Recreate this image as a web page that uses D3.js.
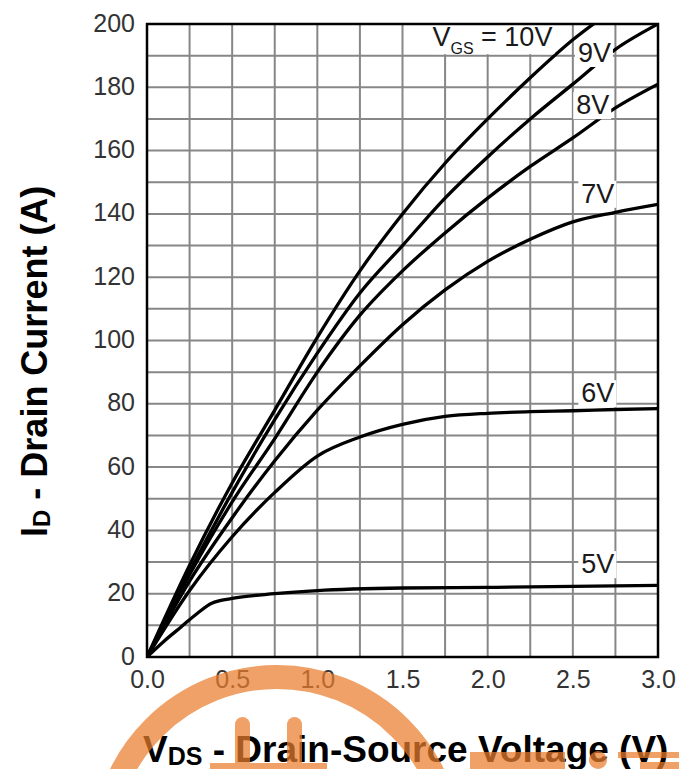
<!DOCTYPE html>
<html>
<head>
<meta charset="utf-8">
<script src="https://cdn.jsdelivr.net/npm/d3@7"></script>
<style>
  html, body { margin: 0; padding: 0; background: #fff; }
  svg { display: block; font-family: "Liberation Sans", Arial, sans-serif; }
</style>
</head>
<body>
<svg id="chart" width="679" height="769"></svg>
<script>
// ---- data ----
const vds = [0, 0.25, 0.5, 0.75, 1.0, 1.25, 1.5, 1.75, 2.0, 2.25, 2.5, 2.75, 3.0];
const id10V = [0, 29, 55, 78, 101, 122, 140, 156, 170, 183, 195, 205, null];
const id9V  = [0, 27, 52, 75, 96, 115, 130, 145, 158, 170, 181, 192, 200];
const id8V  = [0, 26, 49, 69, 90, 108, 122, 134, 145, 155, 164, 173.5, 181];
const id7V  = [0, 24, 44, 62, 78, 92, 105, 116, 125, 132, 137.5, 140.5, 143];
const id6V  = [0, 21, 38, 52, 63.5, 69.5, 73.5, 76, 77, 77.5, 77.8, 78.2, 78.5];
const vds5 = [0, 0.1, 0.2, 0.3, 0.38, 0.5, 0.75, 1.0, 1.5, 2.0, 2.5, 3.0];
const id5V = [0, 5, 9.5, 14, 17, 18.5, 20, 21, 21.8, 22, 22.3, 22.6];
const seriesNames = ["10V", "9V", "8V", "7V", "6V", "5V"];
const xTicks = [0, 0.5, 1.0, 1.5, 2.0, 2.5, 3.0];
const yTicks = [0, 20, 40, 60, 80, 100, 120, 140, 160, 180, 200];
const xGrid = d3.range(0, 3.0001, 0.25);
const yGrid = d3.range(0, 200.001, 10);

// ---- layout ----
const svg = d3.select("#chart");
const L = 147, R = 658, T = 24, B = 657;
const x = d3.scaleLinear().domain([0, 3]).range([L, R]);
const y = d3.scaleLinear().domain([0, 200]).range([B, T]);

svg.append("defs").append("clipPath").attr("id", "plotclip")
  .append("rect").attr("x", L).attr("y", T).attr("width", R - L).attr("height", B - T);

// grid
const grid = svg.append("g").attr("stroke", "#878787").attr("stroke-width", 2);
grid.selectAll("line.v").data(xGrid).enter().append("line")
  .attr("x1", d => x(d)).attr("x2", d => x(d)).attr("y1", T).attr("y2", B);
grid.selectAll("line.h").data(yGrid).enter().append("line")
  .attr("y1", d => y(d)).attr("y2", d => y(d)).attr("x1", L).attr("x2", R);

// curves
const curves = [
  {name: "10V", xs: vds, ys: id10V},
  {name: "9V", xs: vds, ys: id9V},
  {name: "8V", xs: vds, ys: id8V},
  {name: "7V", xs: vds, ys: id7V},
  {name: "6V", xs: vds, ys: id6V},
  {name: "5V", xs: vds5, ys: id5V}
];
const line = d3.line()
  .defined(d => d[1] !== null)
  .x(d => x(d[0])).y(d => y(d[1]))
  .curve(d3.curveMonotoneX);
svg.append("g").attr("clip-path", "url(#plotclip)")
  .selectAll("path").data(curves).enter().append("path")
  .attr("d", c => line(c.xs.map((v, i) => [v, c.ys[i]])))
  .attr("fill", "none").attr("stroke", "#000").attr("stroke-width", 3.3)
  .attr("stroke-linejoin", "round").attr("stroke-linecap", "round");

// curve labels with white boxes
const labelPos = {
  "10V": [2.38, 193], "9V": [2.53, 188], "8V": [2.52, 171.5],
  "7V": [2.55, 143.5], "6V": [2.55, 80.5], "5V": [2.55, 26.5]
};
const lab = svg.append("g").attr("font-size", 27).attr("fill", "#1a1a1a");
// VGS = 10V
{
  const p = labelPos["10V"];
  lab.append("rect").attr("x", x(p[0]) - 119).attr("y", y(p[1]) - 23)
    .attr("width", 121).attr("height", 31).attr("fill", "#fff");
  const t = lab.append("text").attr("x", x(p[0])).attr("y", y(p[1]))
    .attr("text-anchor", "end");
  t.append("tspan").text("V");
  t.append("tspan").attr("font-size", 16).attr("dy", 8).text("GS");
  t.append("tspan").attr("dy", -8).text(" = 10V");
}
["9V", "8V", "7V", "6V", "5V"].forEach(n => {
  const p = labelPos[n];
  lab.append("rect").attr("x", x(p[0]) - 3).attr("y", y(p[1]) - 22)
    .attr("width", 38).attr("height", 27).attr("fill", "#fff");
  lab.append("text").attr("x", x(p[0])).attr("y", y(p[1])).text(n);
});

// frame
svg.append("rect").attr("x", L).attr("y", T).attr("width", R - L).attr("height", B - T)
  .attr("fill", "none").attr("stroke", "#000").attr("stroke-width", 2.5);

// axes (labels only)
const xAxis = svg.append("g").attr("transform", `translate(0,${B})`)
  .call(d3.axisBottom(x).tickValues(xTicks).tickSize(0).tickPadding(13).tickFormat(d3.format(".1f")));
const yAxis = svg.append("g").attr("transform", `translate(${L},0)`)
  .call(d3.axisLeft(y).tickValues(yTicks).tickSize(0).tickPadding(12).tickFormat(d3.format("d")));
[xAxis, yAxis].forEach(a => {
  a.select(".domain").remove();
  a.selectAll("text").attr("font-size", 25).attr("fill", "#333")
    .attr("font-family", "'Liberation Sans', Arial, sans-serif");
});
yAxis.selectAll("text").attr("dy", "0.28em");

// axis titles
const xt = svg.append("text").attr("x", 143).attr("y", 762)
  .attr("font-size", 37).attr("font-weight", "bold").attr("fill", "#000");
xt.append("tspan").text("V");
xt.append("tspan").attr("font-size", 25).attr("dy", 3).text("DS");
xt.append("tspan").attr("dy", -3).text(" - Drain-Source Voltage (V)");

const yt = svg.append("text")
  .attr("transform", "translate(47,537) rotate(-90)")
  .attr("font-size", 36).attr("font-weight", "bold").attr("fill", "#000");
yt.append("tspan").text("I");
yt.append("tspan").attr("font-size", 24).attr("dy", 3).text("D");
yt.append("tspan").attr("dy", -3).text(" - Drain Current (A)");

// watermark overlay
const wm = svg.append("g").attr("opacity", 0.72).attr("fill", "rgb(235,125,45)");
wm.append("circle").attr("cx", 277).attr("cy", 851).attr("r", 174)
  .attr("fill", "none").attr("stroke", "rgb(235,125,45)").attr("stroke-width", 24);
wm.append("rect").attr("x", 235).attr("y", 717).attr("width", 15).attr("height", 60).attr("rx", 7.5);
wm.append("rect").attr("x", 287).attr("y", 717).attr("width", 15).attr("height", 60).attr("rx", 7.5);
wm.append("rect").attr("x", 210).attr("y", 763).attr("width", 117).attr("height", 8);
wm.append("rect").attr("x", 470).attr("y", 752).attr("width", 95).attr("height", 20);
wm.append("circle").attr("cx", 598).attr("cy", 760).attr("r", 9);
wm.append("rect").attr("x", 618).attr("y", 752).attr("width", 61).attr("height", 6);
wm.append("rect").attr("x", 640).attr("y", 762).attr("width", 39).attr("height", 8);
</script>
</body>
</html>
